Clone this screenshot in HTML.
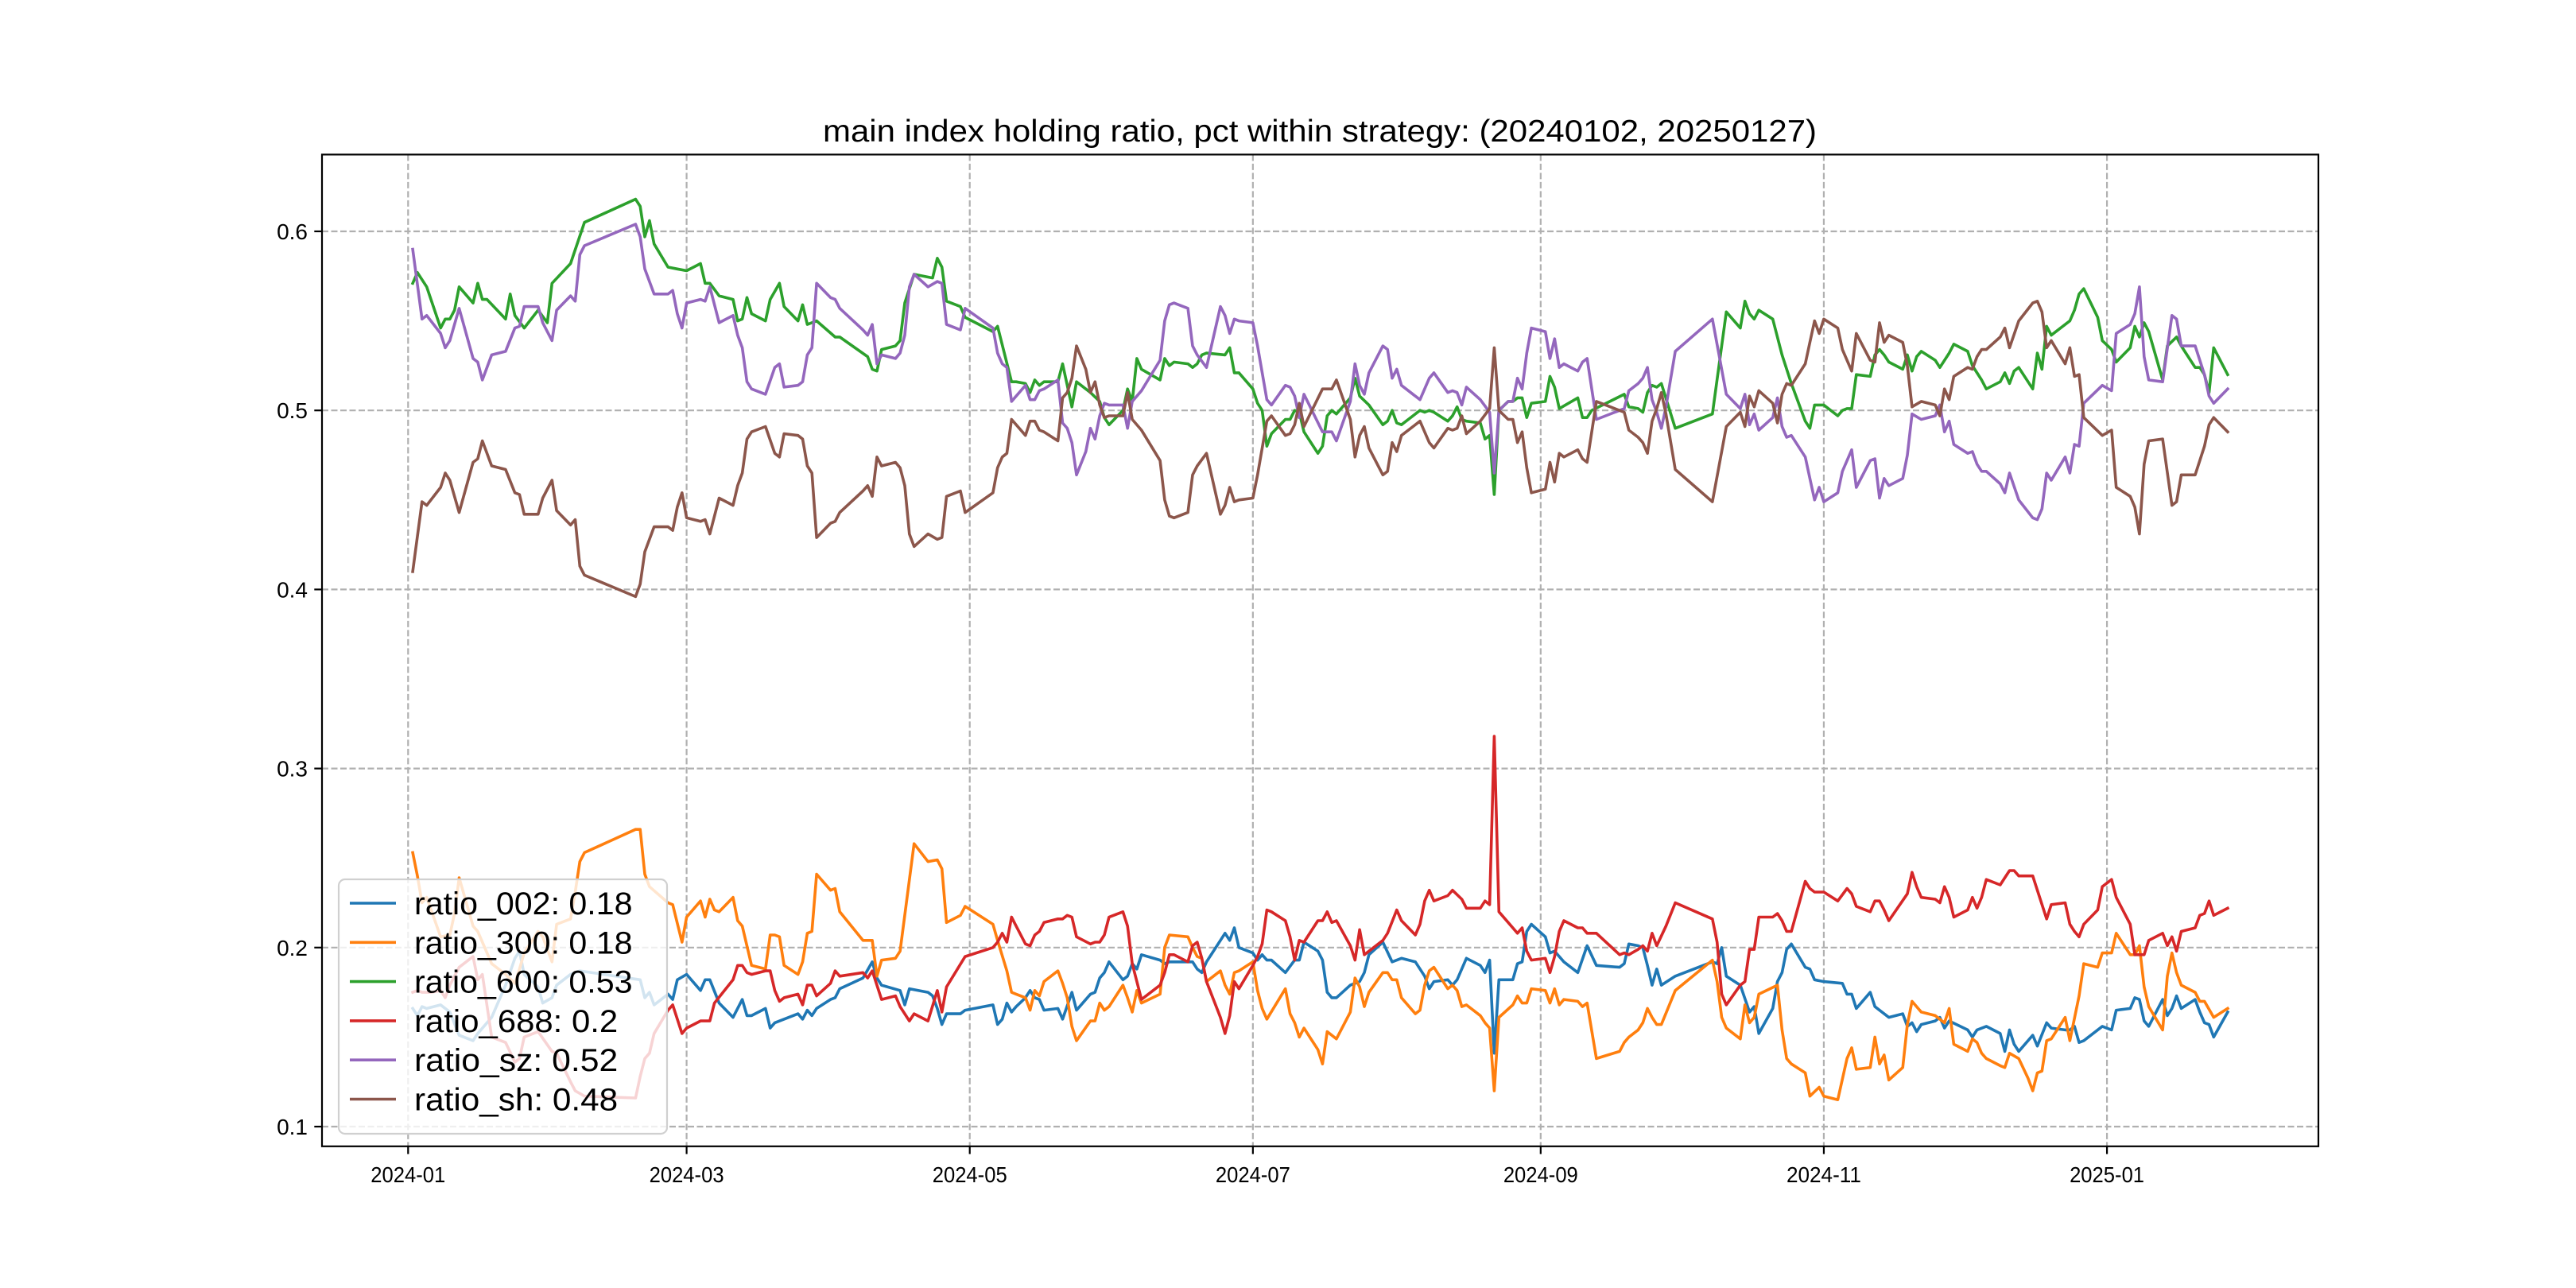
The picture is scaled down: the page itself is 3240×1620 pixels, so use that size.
<!DOCTYPE html>
<html><head><meta charset="utf-8"><style>
html,body{margin:0;padding:0;background:#fff;}
svg{display:block;}
text{font-family:"WenQuanYi Zen Hei","Liberation Sans","Noto Sans CJK SC",sans-serif;fill:#000;}
</style></head><body>
<svg id="chart" width="3240" height="1620" viewBox="0 0 3240 1620" xmlns="http://www.w3.org/2000/svg">
<rect x="0" y="0" width="3240" height="1620" fill="#fff"/>
<text x="1660" y="178" text-anchor="middle" font-size="39" textLength="1250" lengthAdjust="spacingAndGlyphs">main index holding ratio, pct within strategy: (20240102, 20250127)</text>
<g id="grid"></g>
<g id="series"></g>
<rect x="405" y="194.4" width="2511" height="1247.4" fill="none" stroke="#000" stroke-width="2.2"/>
<g id="ticks"></g>
<g id="legend"></g>
</svg>
<script>
// x tick categories (day offset from 2024-01-01) and labels
const xTickDays = [0, 60, 121, 182, 244, 305, 366];
const xTickLabels = ["2024-01","2024-03","2024-05","2024-07","2024-09","2024-11","2025-01"];
const yTickValues = [0.1, 0.2, 0.3, 0.4, 0.5, 0.6];
const yTickLabels = ["0.1","0.2","0.3","0.4","0.5","0.6"];

const d002 = [1,2,3,4,7,9,11,14,15,18,21,23,24,25,28,29,31,32,35,37,50,51,52,53,56,57,58,60,63,64,65,67,70,72,73,74,77,78,79,84,85,86,87,88,91,92,93,98,100,101,102,106,107,108,112,113,114,115,116,119,120,126,127,128,129,130,
131,133,134,135,136,137,140,141,143,144,147,148,149,150,151,154,155,156,157,158,162,163,164,168,169,170,171,172,176,177,178,179,182,183,184,185,186,189,191,192,193,196,197,198,199,200,203,204,205,206,207,210,212,214,217,219,220,221,224,225,226,228,231,232,233,234,235,238,239,240,241,242,245,246,247,249,252,254,256,261,262,263,
265,266,267,268,269,270,273,281,282,283,284,287,289,290,291,294,295,296,297,298,301,302,303,305,309,310,311,312,315,316,319,322,323,324,325,326,329,330,331,332,336,337,338,340,343,344,345,346,347,350,351,353,354,357,358,359,360,361,365,367,368,371,372,373,374,375,378,379,380,381,382,385,386,387,388,389,392];
const v002 = [.166,.162,.167,.166,.168,.164,.151,.148,.152,.161,.179,.194,.198,.185,.178,.169,.172,.179,.185,.187,.182,.172,.175,.168,.174,.171,.182,.185,.176,.182,.182,.169,.161,.171,.162,.162,.166,.155,.158,.163,.160,.165,.162,.166,.171,.172,.177,.183,.192,.183,.179,.176,.168,.177,.175,.173,.166,.157,.163,.163,.165,.168,.157,.160,.169,.164,
.167,.172,.176,.172,.171,.165,.166,.160,.175,.165,.174,.175,.183,.186,.192,.182,.184,.191,.188,.196,.193,.191,.192,.192,.192,.188,.186,.192,.208,.204,.211,.200,.197,.193,.196,.193,.193,.186,.193,.193,.203,.198,.193,.175,.172,.172,.179,.180,.181,.186,.196,.203,.192,.194,.192,.184,.177,.181,.182,.179,.182,.194,.190,.186,.193,.141,.182,.182,.191,.192,.209,.213,.206,.197,.198,.192,.186,.201,.190,.189,.191,.202,
.201,.200,.190,.179,.188,.179,.184,.192,.191,.200,.184,.179,.164,.167,.152,.166,.181,.186,.199,.202,.189,.188,.182,.181,.180,.174,.174,.166,.175,.167,.161,.163,.156,.158,.153,.157,.159,.161,.155,.159,.154,.150,.154,.156,.152,.142,.154,.146,.142,.151,.145,.158,.155,.154,.154,.156,.147,.148,.156,.154,.165,.166,.172,.171,.159,.156,.171,.162,.166,.173,.166,.171,.164,.158,.157,.150,.164];

const d300 = [1,2,3,4,7,9,10,11,14,15,18,21,23,24,25,28,29,31,32,35,36,37,38,49,50,51,52,56,57,59,60,63,64,65,66,67,70,71,72,74,77,78,79,80,81,84,85,86,87,88,91,92,93,98,100,101,102,105,106,109,112,114,115,116,119,120,126,127,129,130,
131,133,134,135,136,137,140,141,142,143,144,147,148,149,150,151,154,155,156,157,158,162,163,164,168,169,170,171,172,175,176,177,178,179,182,183,184,185,189,190,191,192,193,196,197,198,200,203,204,205,206,207,210,211,212,213,214,217,218,219,220,221,224,225,226,227,228,231,232,233,234,235,238,239,240,241,242,245,246,247,248,249,252,253,254,256,261,262,263,
265,266,267,268,269,270,273,281,282,283,284,287,288,289,290,291,295,296,297,298,301,302,304,305,308,310,311,312,315,316,317,318,319,322,323,324,326,329,330,331,332,333,336,337,338,339,340,343,344,345,347,349,350,351,352,353,354,357,358,360,361,364,365,367,368,371,372,373,374,375,378,379,380,381,382,385,386,387,389,392];
const v300 = [.253,.240,.225,.228,.206,.207,.219,.239,.212,.209,.191,.185,.180,.188,.197,.209,.206,.192,.213,.216,.231,.248,.253,.266,.266,.241,.234,.225,.224,.203,.217,.226,.217,.227,.221,.220,.228,.215,.212,.190,.188,.207,.207,.206,.190,.185,.192,.208,.209,.241,.232,.233,.220,.204,.204,.184,.193,.194,.198,.258,.248,.249,.244,.214,.218,.223,.213,.204,.187,.175,
.174,.172,.165,.176,.173,.181,.187,.180,.172,.156,.148,.159,.159,.169,.165,.167,.179,.172,.164,.176,.169,.174,.200,.207,.206,.200,.195,.194,.181,.187,.179,.174,.186,.187,.192,.176,.166,.160,.177,.163,.158,.150,.155,.143,.135,.153,.149,.164,.183,.178,.167,.175,.186,.186,.182,.182,.172,.163,.165,.179,.187,.189,.177,.179,.176,.167,.168,.162,.158,.155,.120,.161,.168,.173,.169,.169,.177,.176,.169,.177,.168,.171,.170,.167,.169,.138,.142,.147,.150,
.154,.158,.166,.161,.157,.157,.176,.193,.181,.161,.155,.149,.168,.158,.161,.174,.179,.154,.138,.135,.130,.117,.122,.117,.115,.138,.144,.132,.133,.150,.135,.140,.126,.133,.157,.170,.164,.162,.160,.158,.166,.146,.142,.149,.147,.141,.138,.134,.133,.141,.138,.127,.120,.130,.131,.148,.149,.161,.148,.173,.191,.189,.197,.197,.208,.196,.196,.201,.178,.167,.154,.184,.197,.186,.179,.175,.170,.170,.161,.166];

const d600 = [1,2,4,7,8,9,10,11,14,15,16,17,21,22,23,25,28,30,31,35,38,49,50,51,52,53,56,58,60,63,64,65,67,70,71,72,73,74,77,78,80,81,84,85,86,88,92,93,99,100,101,102,105,106,107,109,113,114,115,116,119,120,126,127,130,
131,133,134,135,136,137,140,141,143,144,147,149,150,151,154,155,156,157,158,162,163,164,165,168,169,170,171,172,176,177,178,179,182,183,184,185,186,189,190,191,192,193,196,197,198,199,200,203,204,205,207,210,211,212,213,214,218,219,220,221,224,225,226,227,228,231,232,233,234,235,237,238,239,240,241,242,245,246,247,248,252,253,254,255,262,263,
265,266,267,268,269,270,273,281,284,287,288,289,290,291,294,296,298,301,302,303,305,308,309,310,311,312,315,316,317,318,319,322,323,324,325,326,329,330,332,333,336,337,339,340,343,344,345,346,347,350,351,352,353,354,358,359,360,361,364,365,367,368,371,372,373,374,375,378,379,381,382,383,385,386,387,388,389,392];
const v600 = [.571,.577,.569,.546,.551,.551,.556,.569,.560,.571,.562,.562,.551,.565,.553,.546,.556,.549,.571,.582,.605,.618,.614,.597,.606,.593,.580,.579,.578,.582,.571,.571,.564,.562,.550,.551,.563,.554,.550,.562,.571,.558,.550,.559,.548,.550,.541,.541,.530,.523,.522,.534,.536,.539,.560,.576,.574,.585,.580,.561,.558,.552,.544,.547,.516,
.516,.515,.510,.517,.514,.516,.516,.526,.502,.516,.510,.505,.496,.492,.500,.512,.505,.529,.523,.517,.529,.525,.527,.526,.524,.526,.531,.532,.531,.535,.521,.521,.512,.504,.500,.480,.487,.495,.495,.500,.499,.488,.476,.480,.497,.500,.498,.507,.518,.508,.503,.492,.494,.500,.493,.492,.500,.499,.500,.499,.494,.497,.502,.495,.494,.493,.484,.486,.453,.500,.505,.505,.507,.507,.496,.504,.505,.519,.513,.501,.507,.496,.496,.500,.509,.502,
.501,.499,.510,.514,.513,.515,.490,.498,.555,.546,.561,.554,.551,.556,.551,.531,.515,.494,.490,.503,.503,.497,.500,.501,.501,.520,.519,.531,.534,.531,.527,.523,.531,.522,.530,.533,.528,.524,.532,.537,.533,.525,.517,.512,.516,.521,.515,.522,.524,.512,.532,.523,.547,.542,.550,.556,.565,.568,.552,.539,.534,.527,.535,.547,.541,.549,.544,.517,.536,.541,.536,.532,.524,.524,.520,.510,.535,.520];

const d688 = [1,2,3,5,7,8,9,11,14,15,16,18,21,23,24,25,28,31,32,35,36,38,49,50,51,52,53,56,57,59,60,63,64,65,66,70,71,72,73,74,77,78,79,80,81,84,85,86,87,88,91,92,93,98,99,100,102,105,106,108,109,112,114,115,116,120,126,127,128,129,130,
131,133,134,135,136,137,140,141,142,143,144,147,148,149,150,151,154,155,156,158,162,163,164,165,168,169,170,171,172,175,176,177,178,179,182,183,184,185,186,189,190,191,192,193,196,197,198,199,200,203,204,205,206,210,211,213,214,217,218,219,220,221,224,225,227,228,231,232,233,234,235,239,240,241,242,245,246,247,248,249,252,253,254,256,261,262,263,
265,266,267,268,269,271,273,281,282,283,284,287,288,289,290,291,294,295,296,297,298,301,302,303,305,308,310,311,312,315,316,317,318,319,323,324,325,326,329,330,331,332,333,336,337,338,339,340,343,344,345,346,347,350,351,353,354,357,358,359,360,361,364,365,367,368,371,372,374,375,378,379,380,381,382,385,386,387,388,389,392];
const v688 = [.175,.176,.175,.175,.176,.172,.179,.189,.195,.182,.185,.150,.147,.136,.138,.150,.153,.142,.141,.125,.120,.117,.116,.128,.138,.141,.152,.165,.168,.152,.155,.159,.159,.159,.169,.182,.190,.190,.186,.185,.187,.187,.176,.170,.172,.174,.168,.179,.179,.173,.180,.187,.184,.186,.183,.187,.171,.173,.167,.159,.163,.159,.176,.164,.178,.195,.200,.203,.208,.203,.217,
.212,.202,.201,.207,.209,.214,.216,.216,.218,.217,.206,.202,.203,.203,.207,.217,.220,.212,.191,.171,.179,.186,.196,.196,.192,.201,.203,.194,.181,.161,.152,.162,.181,.177,.190,.195,.202,.221,.220,.215,.206,.193,.204,.203,.215,.215,.220,.214,.215,.201,.193,.210,.196,.204,.208,.221,.215,.207,.213,.226,.232,.226,.229,.232,.227,.222,.222,.226,.224,.318,.220,.208,.211,.198,.193,.194,.186,.195,.209,.215,.211,.211,.208,.208,.196,.197,.196,
.199,.201,.198,.208,.201,.212,.225,.216,.203,.174,.168,.179,.181,.199,.199,.217,.217,.219,.215,.209,.209,.237,.233,.231,.231,.226,.233,.230,.223,.220,.226,.226,.221,.215,.230,.242,.234,.228,.227,.225,.234,.228,.217,.221,.228,.222,.228,.238,.235,.239,.243,.243,.240,.240,.232,.216,.224,.225,.213,.209,.206,.213,.221,.234,.238,.228,.213,.196,.196,.204,.208,.201,.206,.198,.209,.211,.218,.219,.226,.218,.222];

const dsz = [1,3,4,7,8,9,11,14,15,16,18,21,23,24,25,28,29,31,32,35,36,37,38,49,50,51,53,56,57,58,59,60,63,64,65,67,70,71,72,73,74,77,79,80,81,84,85,86,87,88,91,92,93,98,99,100,101,102,105,106,107,108,109,112,114,115,116,119,120,126,127,128,129,130,
131,133,134,135,136,137,140,141,142,143,144,146,147,148,149,150,151,154,155,156,158,162,163,164,165,168,169,170,172,175,176,177,178,179,182,183,185,186,189,190,191,192,193,197,199,200,203,204,205,206,207,210,211,212,213,214,218,220,221,224,225,226,227,228,231,233,234,235,237,238,239,240,241,242,245,246,247,248,249,252,253,254,256,262,263,
265,266,267,268,269,270,271,273,281,284,287,288,289,290,291,294,295,296,297,298,301,302,303,304,305,308,309,311,312,315,316,317,318,319,322,323,324,326,329,330,331,332,333,336,337,338,339,340,343,344,345,347,350,351,352,353,354,357,358,359,360,361,365,367,368,371,372,373,374,375,378,380,381,382,385,387,388,389,392];
const vsz = [.590,.551,.553,.543,.535,.539,.557,.529,.527,.517,.531,.533,.546,.547,.558,.558,.549,.539,.556,.564,.561,.587,.592,.604,.597,.579,.565,.565,.567,.554,.546,.560,.562,.561,.569,.549,.553,.542,.535,.516,.512,.509,.524,.526,.513,.514,.516,.531,.535,.571,.563,.562,.557,.545,.542,.548,.526,.531,.529,.532,.542,.569,.576,.569,.572,.571,.548,.545,.557,.546,.532,.526,.524,.505,
.508,.514,.506,.506,.511,.512,.517,.493,.490,.482,.464,.477,.490,.484,.497,.504,.503,.503,.490,.505,.511,.528,.550,.559,.560,.557,.536,.531,.524,.558,.553,.543,.551,.550,.549,.536,.506,.503,.514,.513,.508,.496,.509,.488,.488,.483,.505,.526,.514,.509,.521,.536,.534,.518,.523,.514,.506,.518,.521,.510,.511,.510,.503,.513,.506,.499,.465,.500,.505,.505,.518,.512,.532,.546,.544,.529,.540,.524,.526,.522,.527,.529,.495,.501,.511,
.515,.518,.524,.506,.499,.490,.502,.533,.551,.509,.501,.509,.492,.498,.489,.496,.507,.491,.485,.486,.474,.462,.450,.457,.449,.454,.466,.478,.457,.472,.473,.451,.462,.458,.462,.475,.498,.495,.497,.503,.488,.494,.481,.476,.477,.470,.466,.466,.459,.454,.465,.450,.440,.439,.445,.465,.461,.474,.465,.481,.480,.504,.514,.511,.543,.548,.554,.569,.530,.517,.516,.553,.551,.536,.536,.520,.508,.504,.512];

const dsh = [1,3,4,7,8,9,11,14,15,16,18,21,23,24,25,28,29,31,32,35,36,37,38,49,50,51,53,56,57,58,59,60,63,64,65,67,70,71,72,73,74,77,79,80,81,84,85,86,87,88,91,92,93,98,99,100,101,102,105,106,107,108,109,112,114,115,116,119,120,126,127,128,129,130,
131,133,134,135,136,137,140,141,142,143,144,146,147,148,149,150,151,154,155,156,158,162,163,164,165,168,169,170,172,175,176,177,178,179,182,183,185,186,189,190,191,192,193,197,199,200,203,204,205,206,207,210,211,212,213,214,218,220,221,224,225,226,227,228,231,233,234,235,237,238,239,240,241,242,245,246,247,248,249,252,253,254,256,262,263,
265,266,267,268,269,270,271,273,281,284,287,288,289,290,291,294,295,296,297,298,301,302,303,304,305,308,309,311,312,315,316,317,318,319,322,323,324,326,329,330,331,332,333,336,337,338,339,340,343,344,345,347,350,351,352,353,354,357,358,359,360,361,365,367,368,371,372,373,374,375,378,380,381,382,385,387,388,389,392];
const vsh = [.410,.449,.447,.457,.465,.461,.443,.471,.473,.483,.469,.467,.454,.453,.442,.442,.451,.461,.444,.436,.439,.413,.408,.396,.403,.421,.435,.435,.433,.446,.454,.440,.438,.439,.431,.451,.447,.458,.465,.484,.488,.491,.476,.474,.487,.486,.484,.469,.465,.429,.437,.438,.443,.455,.458,.452,.474,.469,.471,.468,.458,.431,.424,.431,.428,.429,.452,.455,.443,.454,.468,.474,.476,.495,
.492,.486,.494,.494,.489,.488,.483,.507,.510,.518,.536,.523,.510,.516,.503,.496,.497,.497,.510,.495,.489,.472,.450,.441,.440,.443,.464,.469,.476,.442,.447,.457,.449,.450,.451,.464,.494,.497,.486,.487,.492,.504,.491,.512,.512,.517,.495,.474,.486,.491,.479,.464,.466,.482,.477,.486,.494,.482,.479,.490,.489,.490,.497,.487,.494,.501,.535,.500,.495,.495,.482,.488,.468,.454,.456,.471,.460,.476,.474,.478,.473,.471,.505,.499,.489,
.485,.482,.476,.494,.501,.510,.498,.467,.449,.491,.499,.491,.508,.502,.511,.504,.493,.509,.515,.514,.526,.538,.550,.543,.551,.546,.534,.522,.543,.528,.527,.549,.538,.542,.538,.525,.502,.505,.503,.497,.512,.506,.519,.524,.523,.530,.534,.534,.541,.546,.535,.550,.560,.561,.555,.535,.539,.526,.535,.519,.520,.496,.486,.489,.457,.452,.446,.431,.470,.483,.484,.447,.449,.464,.464,.480,.492,.496,.488];

const seriesNames = ["ratio_002","ratio_300","ratio_600","ratio_688","ratio_sz","ratio_sh"];
const legendValues = ["0.18","0.18","0.53","0.2","0.52","0.48"];
const seriesDays = [d002,d300,d600,d688,dsz,dsh];
const seriesVals = [v002,v300,v600,v688,vsz,vsh];
const colors = ["#1f77b4","#ff7f0e","#2ca02c","#d62728","#9467bd","#8c564b"];

const NS = "http://www.w3.org/2000/svg";
const L = 405, R = 2916, T = 194.4, B = 1441.8;
const dayMin = -18.55, dayMax = 411.55;
const X = d => L + (d - dayMin) / (dayMax - dayMin) * (R - L);
const Y = v => 291 + (0.6 - v) * 2252;

function mk(tag, attrs, parent) {
  const el = document.createElementNS(NS, tag);
  for (const k in attrs) el.setAttribute(k, attrs[k]);
  parent.appendChild(el);
  return el;
}

const grid = document.getElementById('grid');
const ticks = document.getElementById('ticks');
xTickDays.forEach((d, i) => {
  const x = X(d);
  const g = mk('line', {x1:x, x2:x, y1:T, y2:B, stroke:'#b0b0b0', 'stroke-width':2.2, 'stroke-dasharray':'8,3.5'}, grid);
  
  
  const t = mk('line', {x1:x, x2:x, y1:B, y2:B+9.7, stroke:'#000', 'stroke-width':2.2}, ticks);
  
  
  const lb = mk('text', {x:x, y:B+45, 'text-anchor':'middle', 'font-size':28, textLength:94, lengthAdjust:'spacingAndGlyphs'}, ticks);
  lb.textContent = xTickLabels[i];
  
  
});
yTickValues.forEach((v, i) => {
  const y = Y(v);
  const g = mk('line', {x1:L, x2:R, y1:y, y2:y, stroke:'#b0b0b0', 'stroke-width':2.2, 'stroke-dasharray':'8,3.5'}, grid);
  
  
  const t = mk('line', {x1:L-9.7, x2:L, y1:y, y2:y, stroke:'#000', 'stroke-width':2.2}, ticks);
  
  
  const lb = mk('text', {x:L-18, y:y+10, 'text-anchor':'end', 'font-size':28}, ticks);
  lb.textContent = yTickLabels[i];
  
  
});

const sg = document.getElementById('series');
seriesNames.forEach((name, s) => {
  const days = seriesDays[s], vals = seriesVals[s];
  const pts = days.map((d, i) => X(d).toFixed(1) + ',' + Y(vals[i]).toFixed(1)).join(' ');
  const pl = mk('polyline', {points:pts, fill:'none', stroke:colors[s], 'stroke-width':3.6, 'stroke-linejoin':'round', 'stroke-linecap':'square'}, sg);
  
  
});

const lg = document.getElementById('legend');
const box = mk('rect', {x:426, y:1106, width:413, height:320, rx:8, ry:8, fill:'#fff', 'fill-opacity':0.8, stroke:'#d0d0d0', 'stroke-width':2.2}, lg);


seriesNames.forEach((name, s) => {
  const y = 1136 + s * 49.3;
  const ln = mk('line', {x1:440, x2:498, y1:y, y2:y, stroke:colors[s], 'stroke-width':3.6}, lg);
  
  
  const str = name + ': ' + legendValues[s];
  const tx = mk('text', {x:521, y:y+14, 'font-size':40, textLength:(str.length * 18.3).toFixed(1), lengthAdjust:'spacingAndGlyphs'}, lg);
  tx.textContent = str;
  
  
});
</script>
</body></html>
